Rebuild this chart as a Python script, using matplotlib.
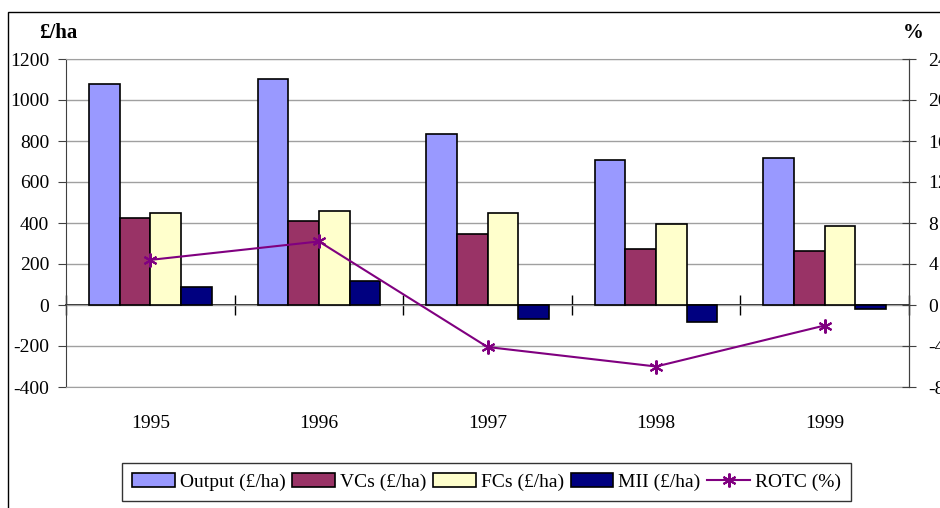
import matplotlib
matplotlib.use("Agg")
from matplotlib import pyplot as plt
from matplotlib.patches import Rectangle
import numpy as np

years = ["1995", "1996", "1997", "1998", "1999"]
output = [1080, 1100, 835, 707, 716]
vcs = [422, 410, 346, 273, 265]
fcs = [450, 460, 449, 394, 385]
mii = [89, 118, -68, -84, -21]
rotc = [4.4, 6.2, -4.1, -6.0, -2.0]

plt.rcParams['font.family'] = ['Liberation Serif', 'DejaVu Serif']
plt.rcParams['font.size'] = 14
plt.rcParams['axes.unicode_minus'] = False

fig = plt.figure(figsize=(9.4, 5.08), dpi=100)
ax = fig.add_axes((66/940, 1-387/508, (909-66)/940, (387-59)/508))

x = np.arange(len(years))
w = 0.182
series = [(output, "#9999FF", "Output (£/ha)"),
          (vcs, "#993366", "VCs (£/ha)"),
          (fcs, "#FFFFCC", "FCs (£/ha)"),
          (mii, "#000080", "MII (£/ha)")]
handles = []
for k, (vals, col, lab) in enumerate(series):
    b = ax.bar(x + (k - 1.5) * w, vals, w, color=col, edgecolor="black",
               linewidth=1.2, label=lab, zorder=3)
    handles.append(b)

ax.set_xlim(-0.5, len(years) - 0.5)
ax.set_ylim(-400, 1200)
ax.set_yticks(range(-400, 1201, 200))
ax.yaxis.grid(True, color="#A0A0A0", linewidth=1)
ax.set_axisbelow(True)
ax.set_xticks(x)
ax.set_xticklabels(years)
ax.tick_params(axis='x', length=0, pad=20)
ax.tick_params(axis='y', direction='out', length=6, pad=6, color="#404040")
for s in ['top', 'bottom']:
    ax.spines[s].set_color("#A0A0A0")
ax.spines['left'].set_color("#404040")
ax.spines['right'].set_color("#404040")

# category axis at zero with boundary ticks
sec = ax.secondary_xaxis(0.25)
sec.set_xticks(np.arange(len(years) + 1) - 0.5)
sec.set_xticklabels([])
sec.tick_params(direction='inout', length=14, width=1, color="black")
sec.spines['bottom'].set_color("black")
sec.spines['bottom'].set_linewidth(1.2)

ax2 = ax.twinx()
ax2.set_ylim(-8, 24)
ax2.set_yticks(range(-8, 25, 4))
ax2.tick_params(axis='y', direction='inout', length=10, pad=9, color="#404040")
line, = ax2.plot(x, rotc, color="#800080", linewidth=1.5, marker=(6, 2, 0),
                 markersize=10, markeredgewidth=1.5, label="ROTC (%)", zorder=5)
for s in ['top', 'bottom', 'left']:
    ax2.spines[s].set_visible(False)
ax2.spines['right'].set_color("#404040")

fig.text(58/940, 1-33/508, "£/ha", fontweight='bold', ha='center', va='center', fontsize=15)
fig.text(913/940, 1-33/508, "%", fontweight='bold', ha='center', va='center', fontsize=15)

leg = fig.legend(handles + [line], [h.get_label() for h in handles] + ["ROTC (%)"],
                 loc='center', bbox_to_anchor=(0.5176, 0.0512), ncol=5,
                 frameon=True, fancybox=False, edgecolor="black",
                 handlelength=2.2, handleheight=0.7, handletextpad=0.25,
                 columnspacing=0.35, borderpad=0.5, fontsize=14)
leg.get_frame().set_linewidth(1)

fig.patches.append(Rectangle((8/940, -0.1), 1.2, 1.1 - 12/508, transform=fig.transFigure,
                             fill=False, edgecolor="black", linewidth=1))

fig.savefig("out.png", dpi=100)
